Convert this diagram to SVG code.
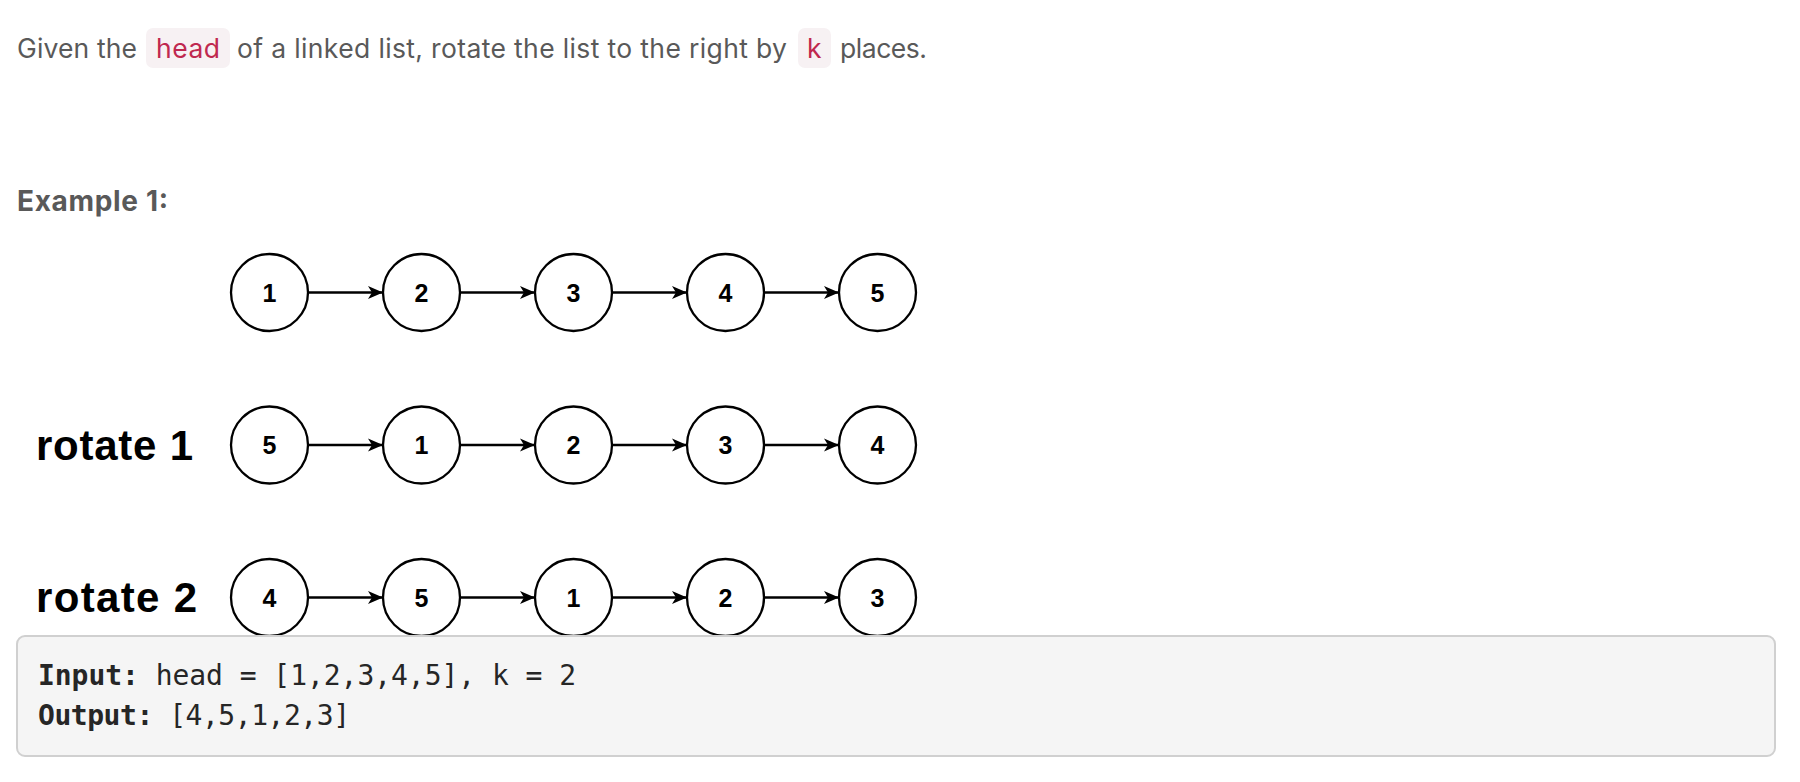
<svg xmlns="http://www.w3.org/2000/svg" width="1800" height="782" viewBox="0 0 1800 782">
<style>
.desc{font-family:Inter,"Liberation Sans",sans-serif;font-size:26.5px;fill:#595959}
.code{font-family:Inter,"Liberation Sans",sans-serif;font-size:26.5px;fill:#c0284f}
.pill{fill:#f7f1f3}
.ex{font-family:Inter,"Liberation Sans",sans-serif;font-size:28px;font-weight:bold;fill:#595959}
.rot{font-family:"Liberation Sans",Arial,sans-serif;font-size:42px;font-weight:bold;fill:#000}
.node circle{fill:#fff;stroke:#000;stroke-width:2.3}
.node text{font-family:"Liberation Sans",Arial,sans-serif;font-size:25px;font-weight:bold;fill:#000;text-anchor:middle}
.edge{stroke:#000;stroke-width:2.3;fill:none;marker-end:url(#arr)}
.mono{font-family:"DejaVu Sans Mono","Liberation Mono",monospace;font-size:28px;fill:#262626}
</style>
<defs>
<marker id="arr" markerUnits="userSpaceOnUse" markerWidth="16" markerHeight="14" refX="15" refY="7" orient="auto">
<path d="M0,0.5 L15,7 L0,13.5 L4,7 Z" fill="#000"/>
</marker>
</defs>
<rect width="1800" height="782" fill="#fff"/>
<g id="description">
<rect class="pill" x="146" y="28" width="84" height="40" rx="7"/>
<rect class="pill" x="798" y="28" width="33" height="40" rx="7"/>
<text class="desc" x="17" y="58" textLength="120">Given the</text>
<text class="code" x="156" y="58" textLength="64">head</text>
<text class="desc" x="237" y="58" textLength="550">of a linked list, rotate the list to the right by</text>
<text class="code" x="807" y="58" textLength="16">k</text>
<text class="desc" x="840" y="58" textLength="87">places.</text>
</g>
<text id="example" class="ex" x="17" y="211" textLength="151">Example 1:</text>
<g id="labels">
<text class="rot" x="36" y="460" textLength="157">rotate 1</text>
<text class="rot" x="36" y="612" textLength="161">rotate 2</text>
</g>
<g id="connectors">
<line class="edge" x1="308" y1="292.5" x2="383" y2="292.5"/>
<line class="edge" x1="460" y1="292.5" x2="535" y2="292.5"/>
<line class="edge" x1="612" y1="292.5" x2="687" y2="292.5"/>
<line class="edge" x1="764" y1="292.5" x2="839" y2="292.5"/>
<line class="edge" x1="308" y1="445" x2="383" y2="445"/>
<line class="edge" x1="460" y1="445" x2="535" y2="445"/>
<line class="edge" x1="612" y1="445" x2="687" y2="445"/>
<line class="edge" x1="764" y1="445" x2="839" y2="445"/>
<line class="edge" x1="308" y1="597.5" x2="383" y2="597.5"/>
<line class="edge" x1="460" y1="597.5" x2="535" y2="597.5"/>
<line class="edge" x1="612" y1="597.5" x2="687" y2="597.5"/>
<line class="edge" x1="764" y1="597.5" x2="839" y2="597.5"/>
</g>
<g id="r1n1" class="node"><circle cx="269.5" cy="292.5" r="38.5"/><text x="269.5" y="301.5">1</text></g>
<g id="r1n2" class="node"><circle cx="421.5" cy="292.5" r="38.5"/><text x="421.5" y="301.5">2</text></g>
<g id="r1n3" class="node"><circle cx="573.5" cy="292.5" r="38.5"/><text x="573.5" y="301.5">3</text></g>
<g id="r1n4" class="node"><circle cx="725.5" cy="292.5" r="38.5"/><text x="725.5" y="301.5">4</text></g>
<g id="r1n5" class="node"><circle cx="877.5" cy="292.5" r="38.5"/><text x="877.5" y="301.5">5</text></g>
<g id="r2n1" class="node"><circle cx="269.5" cy="445" r="38.5"/><text x="269.5" y="454">5</text></g>
<g id="r2n2" class="node"><circle cx="421.5" cy="445" r="38.5"/><text x="421.5" y="454">1</text></g>
<g id="r2n3" class="node"><circle cx="573.5" cy="445" r="38.5"/><text x="573.5" y="454">2</text></g>
<g id="r2n4" class="node"><circle cx="725.5" cy="445" r="38.5"/><text x="725.5" y="454">3</text></g>
<g id="r2n5" class="node"><circle cx="877.5" cy="445" r="38.5"/><text x="877.5" y="454">4</text></g>
<g id="r3n1" class="node"><circle cx="269.5" cy="597.5" r="38.5"/><text x="269.5" y="606.5">4</text></g>
<g id="r3n2" class="node"><circle cx="421.5" cy="597.5" r="38.5"/><text x="421.5" y="606.5">5</text></g>
<g id="r3n3" class="node"><circle cx="573.5" cy="597.5" r="38.5"/><text x="573.5" y="606.5">1</text></g>
<g id="r3n4" class="node"><circle cx="725.5" cy="597.5" r="38.5"/><text x="725.5" y="606.5">2</text></g>
<g id="r3n5" class="node"><circle cx="877.5" cy="597.5" r="38.5"/><text x="877.5" y="606.5">3</text></g>
<g id="codebox">
<rect x="17" y="636" width="1758" height="120" rx="8" fill="#f5f5f5" stroke="#d0d0d0" stroke-width="2"/>
<text class="mono" x="38" y="685" textLength="538"><tspan font-weight="bold">Input:</tspan> head = [1,2,3,4,5], k = 2</text>
<text class="mono" x="38" y="725" textLength="312"><tspan font-weight="bold">Output:</tspan> [4,5,1,2,3]</text>
</g>
</svg>
